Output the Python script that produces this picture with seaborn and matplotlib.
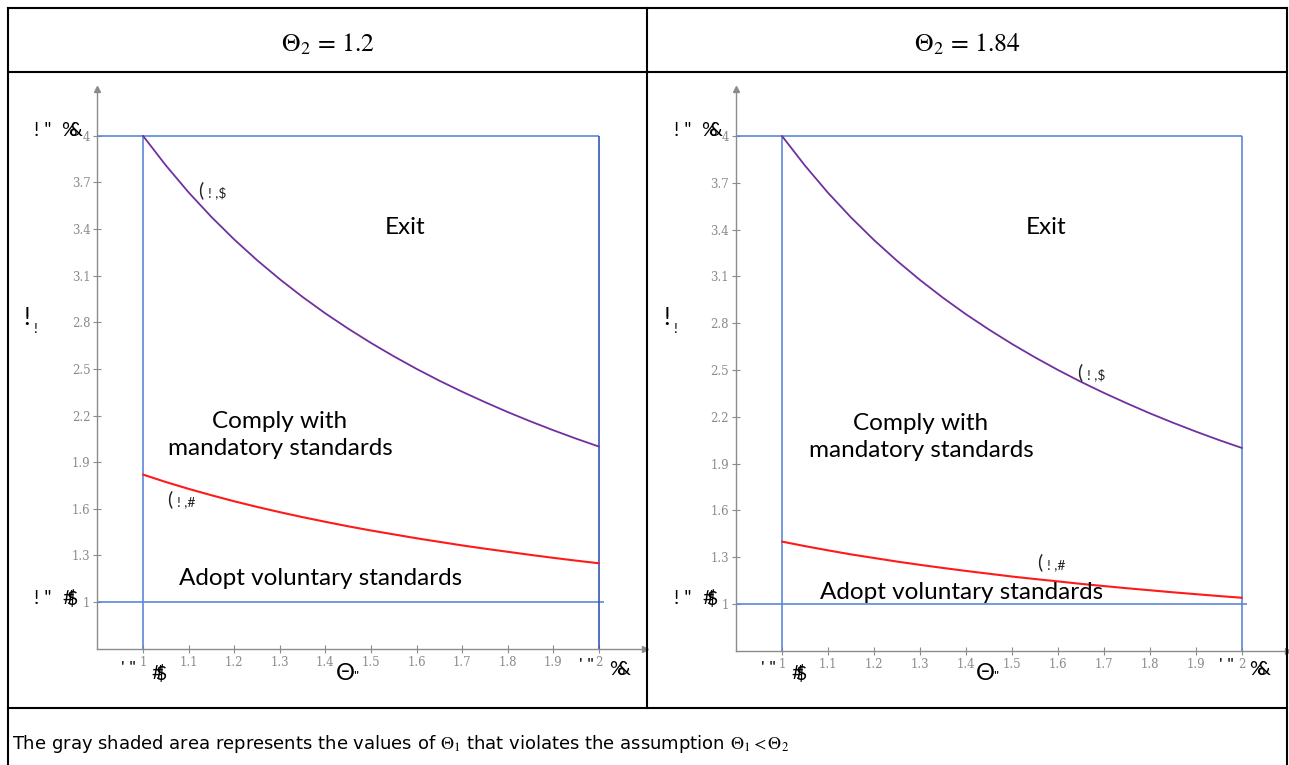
import matplotlib
matplotlib.use("Agg")
import matplotlib.pyplot as plt
import matplotlib.transforms as mtransforms
from matplotlib.lines import Line2D
import seaborn as sns
import pandas as pd

# ---------------- data ----------------
theta1 = [1.00, 1.05, 1.10, 1.15, 1.20, 1.25, 1.30, 1.35, 1.40, 1.45, 1.50,
          1.55, 1.60, 1.65, 1.70, 1.75, 1.80, 1.85, 1.90, 1.95, 2.00]
exit_bound = [4.000, 3.810, 3.636, 3.478, 3.333, 3.200, 3.077, 2.963, 2.857, 2.759, 2.667,
              2.581, 2.500, 2.424, 2.353, 2.286, 2.222, 2.162, 2.105, 2.051, 2.000]
mandatory_bound_12 = [1.820, 1.772, 1.728, 1.687, 1.648, 1.612, 1.578, 1.546, 1.516, 1.487, 1.460,
                      1.435, 1.410, 1.387, 1.364, 1.343, 1.323, 1.303, 1.284, 1.266, 1.249]
mandatory_bound_184 = [1.400, 1.371, 1.344, 1.318, 1.295, 1.272, 1.251, 1.231, 1.212, 1.194, 1.176,
                       1.160, 1.145, 1.129, 1.115, 1.101, 1.088, 1.075, 1.063, 1.051, 1.040]
panel_titles = [r"$\Theta_2\, =\, 1.2$", r"$\Theta_2\, =\, 1.84$"]
x_ticks = [1.0, 1.1, 1.2, 1.3, 1.4, 1.5, 1.6, 1.7, 1.8, 1.9, 2.0]
x_tick_labels = ["1", "1.1", "1.2", "1.3", "1.4", "1.5", "1.6", "1.7", "1.8", "1.9", "2"]
y_ticks = [1.0, 1.3, 1.6, 1.9, 2.2, 2.5, 2.8, 3.1, 3.4, 3.7, 4.0]
y_tick_labels = ["1", "1.3", "1.6", "1.9", "2.2", "2.5", "2.8", "3.1", "3.4", "3.7", "4"]
theta1_bounds = [1.0, 2.0]
cost_bounds = [1.0, 4.0]
region_labels = ["Exit", "Comply with\nmandatory standards", "Adopt voluntary standards"]
footer = (r"The gray shaded area represents the values of $\Theta_1$ that violates "
          r"the assumption $\Theta_1 < \Theta_2$")

# ---------------- style ----------------
sns.set_theme(style="white")
plt.rcParams["font.family"] = ["Lato", "DejaVu Sans"]
plt.rcParams["mathtext.fontset"] = "stix"
plt.rcParams["text.color"] = "black"

W, H = 1289, 765
fig = plt.figure(figsize=(W / 100, H / 100), dpi=100)
fig.patch.set_facecolor("white")
px = mtransforms.Affine2D().scale(1 / W, -1 / H).translate(0, 1) + fig.transFigure

AX_GRAY = "#8c8c8c"
BLUE = "#5b87d9"
BLUE_DARK = "#3358b5"
PURPLE = "#7030a0"
RED = "#ff1a1a"
REGION_FS = 17.5

def add_axes(left, top, width, height):
    return fig.add_axes([left / W, 1 - (top + height) / H, width / W, height / H])

panels = [
    dict(ax=add_axes(97.4, 89.2, 547.2, 559.4), mand=mandatory_bound_12, dx=0,
         right_color=BLUE_DARK,
         exit_lbl=(198, 190), mand_lbl=(167, 499),
         exit_txt=(405, 228), comply_txt=(280, 435), adopt_txt=(321, 579)),
    dict(ax=add_axes(736.0, 89.2, 552.0, 561.6), mand=mandatory_bound_184, dx=640,
         right_color=BLUE,
         exit_lbl=(1077, 372), mand_lbl=(1037, 562),
         exit_txt=(1046, 228), comply_txt=(921, 437), adopt_txt=(962, 593)),
]

for p in panels:
    ax = p["ax"]
    ax.set_xlim(0.9, 2.1)
    ax.set_ylim(0.7, 4.3)
    ax.set_facecolor("none")
    for s in ["top", "right"]:
        ax.spines[s].set_visible(False)
    for s in ["left", "bottom"]:
        ax.spines[s].set_color(AX_GRAY)
        ax.spines[s].set_linewidth(1.0)
    ax.set_xticks(x_ticks, x_tick_labels)
    ax.set_yticks(y_ticks, y_tick_labels)
    ax.tick_params(axis="both", which="major", direction="inout", length=6, width=0.8,
                   color=AX_GRAY, labelcolor="#8a8a8a", labelsize=8.5, pad=2,
                   bottom=True, left=True)
    for lab in ax.get_xticklabels() + ax.get_yticklabels():
        lab.set_family("DejaVu Serif")
    ax.grid(False)
    # arrow heads
    ax.plot(1, 0, marker=">", transform=ax.transAxes, clip_on=False, color=AX_GRAY, ms=5)
    ax.plot(0, 1, marker="^", transform=ax.transAxes, clip_on=False, color=AX_GRAY, ms=5)

    # boundary lines
    ax.hlines(cost_bounds[1], 0.9, theta1_bounds[1], color=BLUE, lw=1.2)
    ax.hlines(cost_bounds[0], 0.9, theta1_bounds[1] + 0.01, color=BLUE, lw=1.2)
    ax.vlines(theta1_bounds[0], 0.7, cost_bounds[1], color=BLUE, lw=1.2)
    ax.vlines(theta1_bounds[1], 0.7, cost_bounds[1], color=p["right_color"], lw=1.2)

    # curves
    df = pd.DataFrame({"theta1": theta1, "exit": exit_bound, "mand": p["mand"]})
    sns.lineplot(data=df, x="theta1", y="exit", color=PURPLE, lw=1.3, ax=ax)
    sns.lineplot(data=df, x="theta1", y="mand", color=RED, lw=1.5, ax=ax)
    ax.set_xlabel("")
    ax.set_ylabel("")

    dx = p["dx"]
    # region labels
    fig.text(*p["exit_txt"], region_labels[0], transform=px, ha="center", va="center",
             fontsize=REGION_FS, color="black")
    fig.text(*p["comply_txt"], region_labels[1], transform=px, ha="center", va="center",
             fontsize=REGION_FS, color="black", linespacing=1.35)
    fig.text(*p["adopt_txt"], region_labels[2], transform=px, ha="center", va="center",
             fontsize=REGION_FS, color="black")

    # curve labels (as they appear in the source)
    for (x0, y0), tail in [(p["exit_lbl"], "! ,$"), (p["mand_lbl"], "! ,#")]:
        fig.text(x0, y0, "(", transform=px, ha="left", va="center", fontsize=14,
                 color="#222222", parse_math=False)
        fig.text(x0 + 10, y0 + 3, tail, transform=px, ha="left", va="center", fontsize=10,
                 color="#222222", parse_math=False)

    # axis-side labels (as they appear in the source)
    t_kw = dict(transform=px, va="center", color="black", parse_math=False)
    fig.text(34 + dx, 131, '! "', ha="left", fontsize=14, **t_kw)
    fig.text(61 + dx, 131, "%", ha="left", fontsize=14, **t_kw)
    fig.text(68 + dx, 131, "&", ha="left", fontsize=14, **t_kw)
    fig.text(34 + dx, 599, '! "', ha="left", fontsize=14, **t_kw)
    fig.text(62 + dx, 599, "#", ha="left", fontsize=14, **t_kw)
    fig.text(66 + dx, 599, "$", ha="left", fontsize=14, **t_kw)
    fig.text(23 + dx, 318, "!", ha="left", fontsize=18, **t_kw)
    fig.text(33 + dx, 329, "!", ha="left", fontsize=10, **t_kw)
    fig.text(121 + dx, 669, "' \"", ha="left", fontsize=13, **t_kw)
    fig.text(151 + dx, 674, "#", ha="left", fontsize=14, **t_kw)
    fig.text(155 + dx, 674, "$", ha="left", fontsize=14, **t_kw)
    fig.text(336 + dx, 674, "\u0398", ha="left", fontsize=17, **t_kw)
    fig.text(353 + dx, 677, '"', ha="left", fontsize=10, **t_kw)
    fig.text(579 + dx, 666, "' \"", ha="left", fontsize=13, **t_kw)
    fig.text(609 + dx, 670, "%", ha="left", fontsize=14, **t_kw)
    fig.text(616 + dx, 670, "&", ha="left", fontsize=14, **t_kw)

# ---------------- table frame ----------------
frame = [
    ((8, 8), (1287, 8)),
    ((8, 72), (1287, 72)),
    ((8, 708), (1287, 708)),
    ((8, 8), (8, 765)),
    ((1287, 8), (1287, 765)),
    ((647, 8), (647, 708)),
]
for (x0, y0), (x1, y1) in frame:
    fig.add_artist(Line2D([x0, x1], [y0, y1], transform=px, color="black", lw=1.5,
                          solid_capstyle="projecting"))

fig.text(327.5, 44, panel_titles[0], transform=px, ha="center", va="center",
         fontsize=18.5, color="black")
fig.text(967, 44, panel_titles[1], transform=px, ha="center", va="center",
         fontsize=18.5, color="black")
fig.text(12, 744, footer, transform=px, ha="left", va="center", fontsize=13,
         family="DejaVu Sans", color="black")

fig.savefig("out.png", dpi=100, facecolor="white")
